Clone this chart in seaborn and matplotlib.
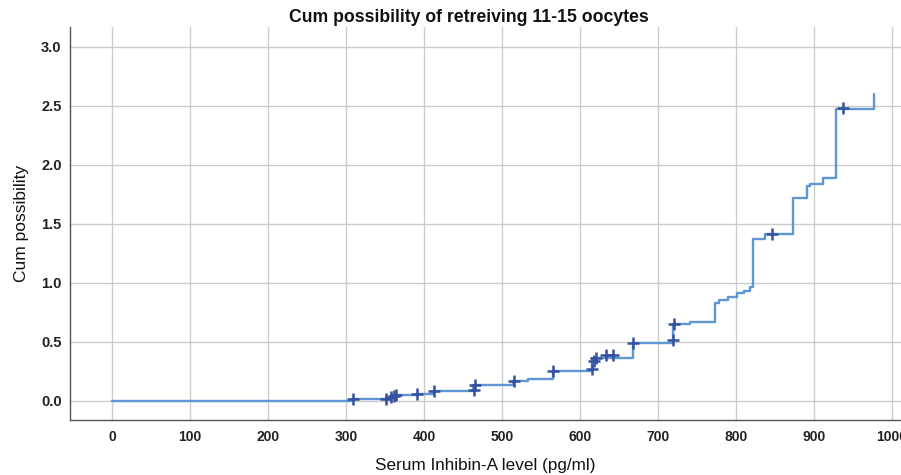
import matplotlib
matplotlib.use("Agg")
import matplotlib.pyplot as plt
import seaborn as sns
import pandas as pd

# Step (event) points: level after each step
step_x = [0, 308, 352, 360, 363, 390, 412, 463, 514, 533, 565, 615, 668, 720,
          741, 773, 779, 790, 801, 810, 818, 822, 837, 874, 891, 895, 912, 928, 977]
step_y = [0.0, 0.01, 0.02, 0.035, 0.05, 0.055, 0.082, 0.13, 0.17, 0.18, 0.25, 0.36, 0.49, 0.65,
          0.67, 0.83, 0.85, 0.88, 0.91, 0.93, 0.96, 1.37, 1.41, 1.72, 1.82, 1.84, 1.89, 2.47, 2.60]

# Censored observations (+ marks)
cens_x = [309, 352, 358, 361, 364, 391, 413, 464, 465, 515, 566, 616, 618, 621,
          634, 643, 668, 720, 721, 846, 937]
cens_y = [0.01, 0.015, 0.03, 0.04, 0.05, 0.055, 0.085, 0.09, 0.135, 0.17, 0.255, 0.27, 0.34, 0.36,
          0.385, 0.39, 0.49, 0.51, 0.65, 1.41, 2.48]

x_ticks = [0, 100, 200, 300, 400, 500, 600, 700, 800, 900, 1000]
y_ticks = [0.0, 0.5, 1.0, 1.5, 2.0, 2.5, 3.0]

sns.set_style("whitegrid")
plt.rcParams['font.family'] = ['Liberation Sans', 'DejaVu Sans']

fig = plt.figure(figsize=(9.01, 4.75), dpi=100)
ax = fig.add_axes([70/901, 1-420/475, 1-70/901, (420-27)/475])

steps = pd.DataFrame({"x": step_x, "y": step_y})
cens = pd.DataFrame({"x": cens_x, "y": cens_y})

sns.lineplot(data=steps, x="x", y="y", ax=ax, drawstyle="steps-post",
             color="#5f97d6", linewidth=1.7, estimator=None, sort=False, zorder=3)
sns.scatterplot(data=cens, x="x", y="y", ax=ax, marker="+", s=80,
                color="#3452a0", linewidth=1.8, zorder=4)

ax.set_xlim(-54, 1012)
ax.set_ylim(-0.164, 3.167)
ax.set_xticks(x_ticks)
ax.set_yticks(y_ticks)
ax.set_xticklabels([str(v) for v in x_ticks], fontweight="bold", fontsize=10, color="#222222")
ax.set_yticklabels([f"{v:.1f}" for v in y_ticks], fontweight="bold", fontsize=10.5, color="#222222")
ax.tick_params(axis="both", length=0)
ax.tick_params(axis="x", pad=7)
ax.tick_params(axis="y", pad=6)

ax.grid(True, color="#cccccc", linewidth=1.0)
for s in ["top", "right"]:
    ax.spines[s].set_visible(False)
for s in ["left", "bottom"]:
    ax.spines[s].set_visible(True)
    ax.spines[s].set_color("#555555")
    ax.spines[s].set_linewidth(1.0)

ax.set_xlabel("Serum Inhibin-A level (pg/ml)", fontsize=12.3, color="#111111", labelpad=10)
ax.set_ylabel("Cum possibility", fontsize=12.5, color="#111111", labelpad=9)
fig.text(469/901, 1-17/475, "Cum possibility of retreiving 11-15 oocytes",
         ha="center", va="center", fontsize=12.7, fontweight="bold", color="#111111")

fig.savefig("out.png", dpi=100)
